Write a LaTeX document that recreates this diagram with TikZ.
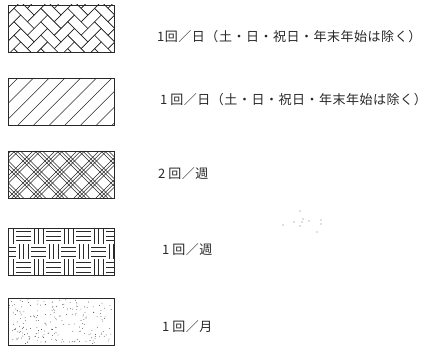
\documentclass[tikz,border=0pt]{standalone}
\usepackage{fontspec}
\usepackage{tikz}
\usetikzlibrary{positioning}
\newfontfamily\jp[LetterSpace=4]{Noto Sans CJK JP}
\definecolor{ink}{RGB}{40,40,40}
\definecolor{speck}{RGB}{120,120,120}
\tikzset{
  swatch/.style={draw=ink,line width=0.9pt,minimum width=106pt,minimum height=47pt,
    inner sep=0pt,outer sep=0pt},
  lbl/.style={anchor=west,inner sep=0pt,font=\jp\fontsize{13}{15}\selectfont,text=ink},
  hl/.style={draw=ink,line width=0.5pt},
  dot/.style={fill=ink},
}

\begin{document}
\begin{tikzpicture}[x=1pt,y=-1pt]
  \useasboundingbox (0,0) rectangle (428,347);
  \node[swatch] (b1) at (61,28.5) {};
  \node[swatch] (b2) at (61,101.5) {};
  \node[swatch] (b3) at (61,174.5) {};
  \node[swatch] (b4) at (61,251.5) {};
  \node[swatch] (b5) at (61,321.5) {};
  % herringbone
  \begin{scope}
    \clip (b1.north west) rectangle (b1.south east);
    \begin{scope}[shift={(b1.center)},rotate=45,x=9.5pt,y=9.5pt]
      \foreach \m in {-5,...,5}{
        \foreach \k in {-8,...,8}{
          \draw[hl] (\k,{\k+4*\m}) rectangle ++(2,1);
          \draw[hl] (\k,{\k+4*\m+1}) rectangle ++(1,2);
        }
      }
    \end{scope}
  \end{scope}
  % hatch
  \begin{scope}
    \clip (b2.north west) rectangle (b2.south east);
    \begin{scope}[shift={(b2.north west)}]
      \foreach \i in {-4,...,7}
        \draw[hl] ({10+15.7*\i},47) -- ++(47,-47);
    \end{scope}
  \end{scope}
  % diagonal plaid
  \begin{scope}
    \clip (b3.north west) rectangle (b3.south east);
    \begin{scope}[shift={(b3.north west)}]
      \foreach \i in {-3,...,6}{
        \foreach \o in {0,3.8,7.6}{
          \draw[hl] ({22*\i+\o},47) -- ++(47,-47);
          \draw[hl] ({22*\i+\o+5},0) -- ++(47,47);
        }
      }
    \end{scope}
  \end{scope}
  % basket weave
  \begin{scope}
    \clip (b4.north west) rectangle (b4.south east);
    \begin{scope}[shift={(b4.north west)}]
      \foreach \i in {-1,...,7}{
        \foreach \j in {0,1,2}{
          \pgfmathsetmacro\cx{-7+15*\i}
          \pgfmathsetmacro\cy{15.67*\j}
          \pgfmathparse{int(mod(\i+\j+11,2))}
          \ifnum\pgfmathresult=0
            \foreach \f in {0.2,0.5,0.8}
              \draw[hl] (\cx,{\cy+15.67*\f}) -- ++(15,0);
          \else
            \foreach \f in {0.2,0.5,0.8}
              \draw[hl] ({\cx+15*\f},\cy) -- ++(0,15.67);
          \fi
        }
      }
    \end{scope}
  \end{scope}
  % stipple
  \begin{scope}[shift={(b5.north west)}]
    \pgfmathsetseed{7}
    \foreach \i in {1,...,210}{
      \pgfmathsetmacro\dx{1.5+103*rnd}
      \pgfmathsetmacro\dy{1.5+44*rnd}
      \fill[dot] (\dx,\dy) circle (0.4pt);
    }
  \end{scope}
  \foreach \p in {(300,211),(303,219),(294,222),(302,222),(309,221),
                  (283,225),(300,226),(321,220),(321,224),(317,232)}
    \fill[speck] \p circle (0.6pt);
  \node[lbl] (t1) at (157,37) {1回／日（土・日・祝日・年末年始は除く）};
  \node[lbl] (t2) at (160,100) {1\kern3pt回／日（土・日・祝日・年末年始は除く）};
  \node[lbl] (t3) at (158,174) {2\kern3pt回／週};
  \node[lbl] (t4) at (162,250) {1\kern3pt回／週};
  \node[lbl] (t5) at (162,327) {1\kern3pt回／月};
\end{tikzpicture}
\end{document}
